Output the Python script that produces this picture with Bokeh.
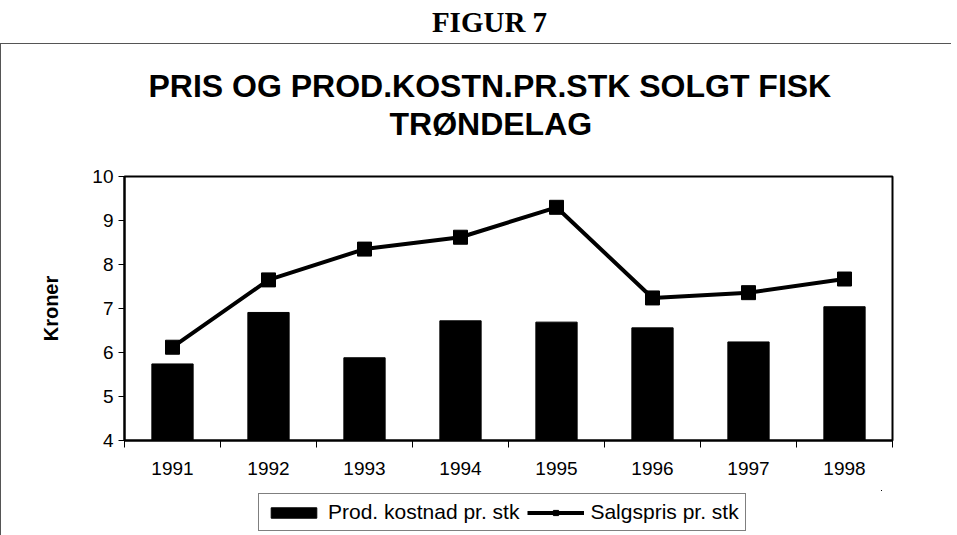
from bokeh.plotting import figure
from bokeh.models import (FixedTicker, Legend, LegendItem, Range1d, Title, Div)
from bokeh.layouts import column
from bokeh.embed import file_html
from bokeh.resources import INLINE

years = [1991, 1992, 1993, 1994, 1995, 1996, 1997, 1998]
prod_kostnad = [5.74, 6.91, 5.88, 6.72, 6.69, 6.56, 6.24, 7.04]
salgspris = [6.12, 7.65, 8.35, 8.62, 9.30, 7.24, 7.36, 7.67]
y_ticks = [4, 5, 6, 7, 8, 9, 10]

fig_title = "FIGUR 7"
title_1 = "PRIS OG PROD.KOSTN.PR.STK SOLGT FISK"
title_2 = "TRØNDELAG"
y_label = "Kroner"
bar_name = "Prod. kostnad pr. stk"
line_name = "Salgspris pr. stk"

x0 = years[0] - 0.5
x1 = years[-1] + 0.5
y0, y1 = y_ticks[0], y_ticks[-1]

bar_style = dict(width=0.43, fill_color="black", line_color="black")
line_style = dict(line_color="black", line_width=4)
marker_style = dict(marker="square", size=14, fill_color="black",
                    line_color="black")

p = figure(frame_width=767, frame_height=263, output_backend="svg",
           toolbar_location=None,
           x_range=Range1d(x0, x1), y_range=Range1d(y0, y1),
           min_border_left=123, min_border_right=60, min_border_top=132,
           min_border_bottom=51,
           styles={"border-top": "1px solid #555555",
                   "border-left": "1px solid #555555"})
p.title.visible = False
p.xgrid.visible = False
p.ygrid.visible = False
p.outline_line_color = "black"
p.outline_line_width = 2
p.background_fill_color = "white"
p.border_fill_color = "white"

p.vbar(x=years, top=prod_kostnad, bottom=y0, **bar_style)
p.line(x=years, y=salgspris, **line_style)
p.scatter(x=years, y=salgspris, **marker_style)

# axes
p.yaxis.ticker = FixedTicker(ticks=y_ticks)
p.yaxis.axis_line_width = 2
p.yaxis.major_tick_in = 0
p.yaxis.major_tick_out = 6
p.yaxis.minor_tick_line_color = None
p.yaxis.major_label_text_font = "Liberation Sans"
p.yaxis.major_label_text_font_size = "19px"
p.yaxis.major_label_text_color = "black"
p.yaxis.major_label_standoff = 5
p.yaxis.axis_label = y_label
p.yaxis.axis_label_text_font = "Liberation Sans"
p.yaxis.axis_label_text_font_style = "bold"
p.yaxis.axis_label_text_font_size = "20px"
p.yaxis.axis_label_text_color = "black"
p.yaxis.axis_label_standoff = 27

boundaries = [y - 0.5 for y in years] + [years[-1] + 0.5]
p.xaxis.ticker = FixedTicker(ticks=years, minor_ticks=boundaries)
p.xaxis.axis_line_width = 2
p.xaxis.major_tick_in = 0
p.xaxis.major_tick_out = 0
p.xaxis.minor_tick_in = 0
p.xaxis.minor_tick_out = 7
p.xaxis.minor_tick_line_color = "black"
p.xaxis.major_label_text_font = "Liberation Sans"
p.xaxis.major_label_text_font_size = "19px"
p.xaxis.major_label_text_color = "black"
p.xaxis.major_label_standoff = 14

# titles, stacked from the frame outward
p.add_layout(Title(text=" ", text_font_size="1px", standoff=32), "above")
p.add_layout(Title(text=title_2, text_font="Liberation Sans",
                   text_font_size="32px", text_font_style="bold",
                   text_color="black", align="left", offset=265,
                   standoff=0), "above")
p.add_layout(Title(text=title_1, text_font="Liberation Sans",
                   text_font_size="32px", text_font_style="bold",
                   text_color="black", align="left", offset=24,
                   standoff=0), "above")

# legend strip: its own small figure, whose view shows none of the data
lg = figure(width=940, height=45, output_backend="svg", toolbar_location=None,
            x_range=Range1d(0, 1), y_range=Range1d(0, 1),
            x_axis_location=None, y_axis_location=None,
            min_border_left=0, min_border_right=0, min_border_top=0,
            min_border_bottom=0, outline_line_color=None,
            styles={"border-left": "1px solid #555555"})
lg.grid.visible = False
lg.border_fill_color = "white"
lg.background_fill_color = "white"
lb = lg.vbar(x=years, top=prod_kostnad, bottom=y0, **bar_style)
ll = lg.line(x=years, y=salgspris, **line_style)
ls = lg.scatter(x=years, y=salgspris, **marker_style)
legend = Legend(items=[LegendItem(label=bar_name, renderers=[lb]),
                       LegendItem(label=line_name, renderers=[ll, ls])],
                orientation="horizontal", location=(134, 4),
                border_line_color="black", border_line_width=1,
                background_fill_color="white", background_fill_alpha=1,
                label_text_font="Liberation Sans", label_text_font_size="21px",
                label_text_color="black", label_height=22,
                glyph_width=57, glyph_height=13, spacing=8, padding=6,
                label_standoff=6, margin=0)
lg.add_layout(legend, "center")

head = Div(text='<div style="position:relative;left:11px;padding-top:2px;">'
                + fig_title + '</div>',
           width=957, height=43, margin=0,
           styles={"font-family": "Liberation Serif", "font-weight": "bold",
                   "font-size": "29px", "color": "black",
                   "text-align": "center"})

layout = column(head, p, lg, spacing=0)
open("out.html", "w").write(file_html(layout, INLINE))
